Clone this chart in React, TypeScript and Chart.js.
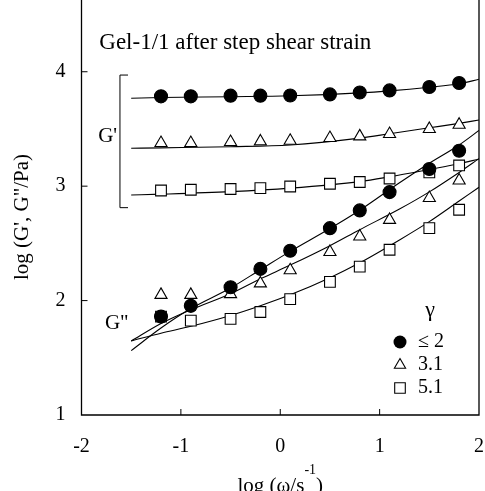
import React, { useEffect, useRef } from 'react';
import { Chart, registerables } from 'chart.js';

Chart.register(...registerables);

const FONT = '"Liberation Serif", "Times New Roman", serif';

// log(omega / s^-1) of the measured points
const logOmega = [-1.2, -0.9, -0.5, -0.2, 0.1, 0.5, 0.8, 1.1, 1.5, 1.8];

// G' (storage modulus), log Pa
const gPrimeLow = [3.785, 3.785, 3.791, 3.791, 3.793, 3.802, 3.819, 3.837, 3.866, 3.901];
const gPrimeMid = [3.377, 3.377, 3.386, 3.391, 3.397, 3.421, 3.435, 3.456, 3.5, 3.537];
const gPrimeHigh = [2.962, 2.969, 2.975, 2.983, 2.997, 3.021, 3.036, 3.067, 3.12, 3.181];

// G'' (loss modulus), log Pa
const gDoubleLow = [1.86, 1.954, 2.117, 2.277, 2.435, 2.633, 2.788, 2.948, 3.15, 3.31];
const gDoubleMid = [2.05, 2.05, 2.056, 2.15, 2.265, 2.425, 2.56, 2.705, 2.896, 3.05];
const gDoubleHigh = [1.86, 1.825, 1.84, 1.9, 2.013, 2.163, 2.297, 2.444, 2.633, 2.794];

// fitted curves
const fitXPrime = [-1.5, -1.2, -0.5, 0.1, 0.8, 1.1, 1.5, 1.8, 2.0];
const fitPrimeLow = [3.768, 3.775, 3.782, 3.79, 3.815, 3.833, 3.865, 3.895, 3.934];
const fitPrimeMid = [3.331, 3.335, 3.345, 3.36, 3.42, 3.458, 3.51, 3.549, 3.578];
const fitPrimeHigh = [2.923, 2.93, 2.952, 2.983, 3.04, 3.082, 3.146, 3.196, 3.237];

const fitXDouble = [-1.5, -1.2, -0.9, -0.5, -0.2, 0.1, 0.5, 0.8, 1.2, 1.5, 1.8, 2.0];
const fitDoubleLow = [1.563, 1.76, 1.93, 2.11, 2.27, 2.43, 2.63, 2.79, 3.03, 3.2, 3.36, 3.487];
const fitDoubleMid = [1.647, 1.8, 1.92, 2.06, 2.19, 2.31, 2.48, 2.62, 2.8, 2.95, 3.12, 3.24];
const fitDoubleHigh = [1.647, 1.715, 1.775, 1.87, 1.955, 2.05, 2.2, 2.33, 2.53, 2.69, 2.87, 2.99];

const xTicks = [-2, -1, 0, 1, 2];
const yTicks = [1, 2, 3, 4];
const legendLabels = ['\u2264 2', '3.1', '5.1'];

const pts = (xs: number[], ys: number[]) => xs.map((x, i) => ({ x, y: ys[i] }));

export default function App() {
  const ref = useRef<HTMLCanvasElement>(null);

  useEffect(() => {
    if (!ref.current) return;

    const annotations = {
      id: 'annotations',
      afterDraw(chart: any) {
        const ctx = chart.ctx as CanvasRenderingContext2D;
        const xs = chart.scales.x;
        const ys = chart.scales.y;
        const X = (v: number) => xs.getPixelForValue(v);
        const Y = (v: number) => ys.getPixelForValue(v);
        const { left: L, right: R, bottom: B } = chart.chartArea;
        ctx.save();
        ctx.strokeStyle = '#000';
        ctx.fillStyle = '#000';
        ctx.lineWidth = 1.3;
        // frame
        ctx.beginPath();
        ctx.moveTo(L, 0);
        ctx.lineTo(L, B);
        ctx.lineTo(R, B);
        ctx.lineTo(R, 0);
        ctx.stroke();
        // inward ticks
        ctx.lineWidth = 1;
        ctx.beginPath();
        [-1, 0, 1].forEach((v) => {
          ctx.moveTo(X(v), B);
          ctx.lineTo(X(v), B - 6);
        });
        [2, 3, 4].forEach((v) => {
          ctx.moveTo(L, Y(v));
          ctx.lineTo(L + 6, Y(v));
        });
        ctx.stroke();

        // G' bracket
        ctx.beginPath();
        ctx.moveTo(X(-1.532), Y(3.971));
        ctx.lineTo(X(-1.613), Y(3.971));
        ctx.lineTo(X(-1.613), Y(2.812));
        ctx.lineTo(X(-1.532), Y(2.812));
        ctx.stroke();

        // title
        ctx.textBaseline = 'middle';
        ctx.textAlign = 'left';
        ctx.font = `23px ${FONT}`;
        ctx.fillText('Gel-1/1 after step shear strain', X(-1.821), Y(4.25));

        ctx.font = `21px ${FONT}`;
        ctx.textAlign = 'right';
        ctx.fillText("G'", X(-1.642), Y(3.43));
        ctx.textAlign = 'left';
        ctx.fillText('G"', X(-1.764), Y(1.804));

        // legend
        ctx.textAlign = 'center';
        ctx.font = `22px ${FONT}`;
        ctx.fillText('\u03b3', X(1.507), Y(1.918));
        ctx.font = `20px ${FONT}`;
        ctx.textAlign = 'left';
        const rows = [1.638, 1.437, 1.236];
        const mx = X(1.205);
        rows.forEach((ry, i) => {
          const my = Y(ry);
          ctx.lineWidth = 1.1;
          ctx.beginPath();
          if (i === 0) {
            ctx.arc(mx, my, 6.5, 0, Math.PI * 2);
            ctx.fill();
          } else if (i === 1) {
            const r = 6.5;
            ctx.moveTo(mx, my - r);
            ctx.lineTo(mx + r * 0.866, my + r * 0.5);
            ctx.lineTo(mx - r * 0.866, my + r * 0.5);
            ctx.closePath();
            ctx.stroke();
          } else {
            ctx.rect(mx - 5.3, my - 5.3, 10.6, 10.6);
            ctx.stroke();
          }
          ctx.fillText(legendLabels[i], X(1.386), my);
        });

        // y axis title
        ctx.save();
        ctx.translate(22, 217);
        ctx.rotate(-Math.PI / 2);
        ctx.textAlign = 'center';
        ctx.textBaseline = 'middle';
        ctx.font = `21px ${FONT}`;
        ctx.fillText('log (G\', G"/Pa)', 0, 0);
        ctx.restore();

        // x axis title with superscript
        ctx.textBaseline = 'alphabetic';
        ctx.textAlign = 'left';
        const main = 'log (\u03c9/s';
        const sup = '-1';
        const close = ')';
        ctx.font = `21px ${FONT}`;
        const w1 = ctx.measureText(main).width;
        const w3 = ctx.measureText(close).width;
        ctx.font = `14px ${FONT}`;
        const w2 = ctx.measureText(sup).width;
        let sx = X(0) - (w1 + w2 + w3) / 2;
        ctx.font = `21px ${FONT}`;
        ctx.fillText(main, sx, 492);
        sx += w1;
        ctx.font = `14px ${FONT}`;
        ctx.fillText(sup, sx, 474);
        sx += w2;
        ctx.font = `21px ${FONT}`;
        ctx.fillText(close, sx, 492);
        ctx.restore();
      },
    };

    const marker = (data: any, style: string, radius: number, filled: boolean) => ({
      data,
      showLine: false,
      pointStyle: style,
      pointRadius: radius,
      pointHoverRadius: radius,
      pointBackgroundColor: filled ? '#000' : '#fff',
      pointBorderColor: '#000',
      pointBorderWidth: 1.1,
    });
    const fit = (xs: number[], ys: number[]) => ({
      data: pts(xs, ys),
      showLine: true,
      pointRadius: 0,
      pointHoverRadius: 0,
      borderColor: '#000',
      borderWidth: 1.1,
      cubicInterpolationMode: 'monotone',
      fill: false,
    });

    const chart = new Chart(ref.current, {
      type: 'scatter',
      data: {
        datasets: [
          marker(pts(logOmega, gPrimeLow), 'circle', 6.5, true),
          marker(pts(logOmega, gDoubleLow), 'circle', 6.5, true),
          marker(pts(logOmega, gPrimeMid), 'triangle', 7, false),
          marker(pts(logOmega, gDoubleMid), 'triangle', 7, false),
          marker(pts(logOmega, gPrimeHigh), 'rect', 7.6, false),
          marker(pts(logOmega, gDoubleHigh), 'rect', 7.6, false),
          fit(fitXPrime, fitPrimeLow),
          fit(fitXPrime, fitPrimeMid),
          fit(fitXPrime, fitPrimeHigh),
          fit(fitXDouble, fitDoubleLow),
          fit(fitXDouble, fitDoubleMid),
          fit(fitXDouble, fitDoubleHigh),
        ] as any,
      },
      options: {
        responsive: false,
        devicePixelRatio: 1,
        animation: false,
        layout: { autoPadding: false, padding: { left: 0, top: 0, right: 6, bottom: 0 } },
        plugins: { legend: { display: false }, tooltip: { enabled: false } },
        scales: {
          x: {
            type: 'linear',
            min: -2,
            max: 2,
            afterBuildTicks: (s: any) => {
              s.ticks = xTicks.map((v) => ({ value: v }));
            },
            afterFit: (s: any) => {
              s.height = 76;
              s.paddingLeft = 0;
              s.paddingRight = 0;
              s.paddingTop = 0;
              s.paddingBottom = 0;
            },
            ticks: {
              font: { family: FONT, size: 20 },
              color: '#000',
              padding: 20,
              maxRotation: 0,
              autoSkip: false,
              callback: (v: any) => String(v),
            },
            grid: { display: false, drawTicks: false },
            border: { display: false },
          },
          y: {
            type: 'linear',
            min: 1,
            max: 4.627,
            afterBuildTicks: (s: any) => {
              s.ticks = yTicks.map((v) => ({ value: v }));
            },
            afterFit: (s: any) => {
              s.width = 81.5;
              s.paddingTop = 0;
              s.paddingBottom = 0;
              s.paddingLeft = 0;
              s.paddingRight = 0;
            },
            ticks: {
              font: { family: FONT, size: 20 },
              color: '#000',
              padding: 16,
              autoSkip: false,
              callback: (v: any) => String(v),
            },
            grid: { display: false, drawTicks: false },
            border: { display: false },
          },
        },
      } as any,
      plugins: [annotations],
    });
    return () => chart.destroy();
  }, []);

  return (
    <div style={{ position: 'fixed', left: 0, top: 0, width: 485, height: 491, background: '#fff' }}>
      <canvas ref={ref} width={485} height={491} style={{ display: 'block', width: 485, height: 491 }} />
    </div>
  );
}
